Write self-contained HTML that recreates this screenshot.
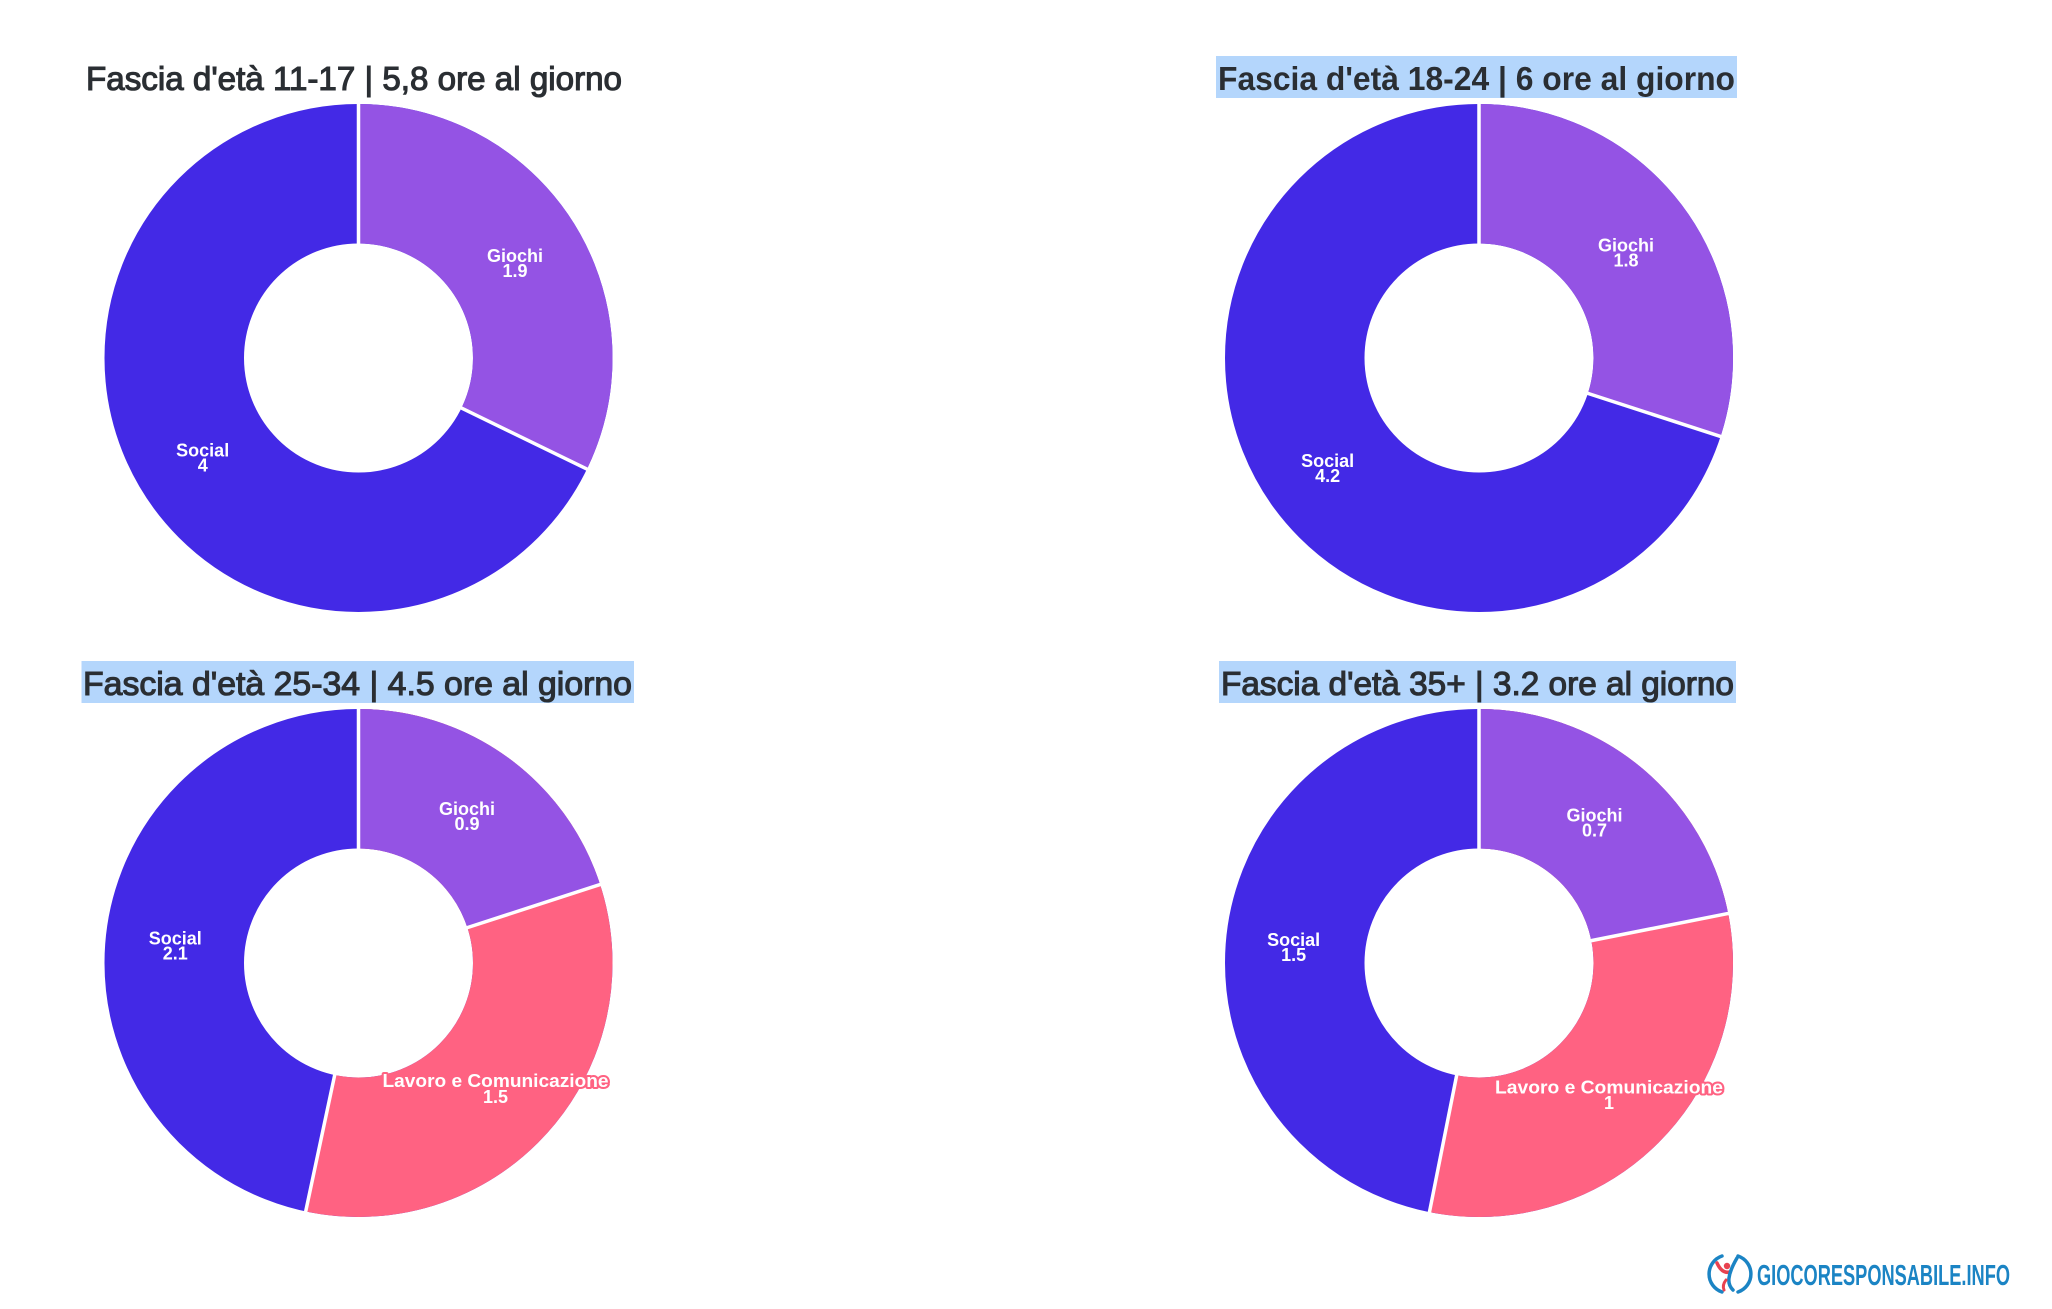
<!DOCTYPE html>
<html>
<head>
<meta charset="utf-8">
<style>
  html, body { margin: 0; padding: 0; background: #ffffff; }
  body { width: 2052px; height: 1309px; overflow: hidden; }
  svg { display: block; }
  .title { font-family: "Liberation Sans", sans-serif; font-size: 33px; fill: #2a2e33; }
  .tm { stroke: #2a2e33; stroke-width: 1.1px; }
  .lbl { font-family: "Liberation Sans", sans-serif; font-weight: bold; font-size: 18px; fill: #ffffff; text-anchor: middle; }
  .lav { stroke: #ff6282; stroke-width: 4px; paint-order: stroke; stroke-linejoin: round; }
</style>
</head>
<body>
<svg width="2052" height="1309" viewBox="0 0 2052 1309" xmlns="http://www.w3.org/2000/svg">
  <rect width="2052" height="1309" fill="#ffffff"/>

  <!-- Title highlights -->
  <rect x="1216" y="56" width="521" height="42" fill="#b4d6fc"/>
  <rect x="81.5" y="661" width="552.5" height="42" fill="#b4d6fc"/>
  <rect x="1219" y="661" width="517" height="42" fill="#b4d6fc"/>

  <!-- Titles -->
  <text class="title tm" x="86" y="90" textLength="536" lengthAdjust="spacingAndGlyphs">Fascia d'età 11-17 | 5,8 ore al giorno</text>
  <text class="title" font-weight="bold" x="1218" y="90" textLength="517" lengthAdjust="spacingAndGlyphs">Fascia d'età 18-24 | 6 ore al giorno</text>
  <text class="title tm" x="83" y="695" textLength="549" lengthAdjust="spacingAndGlyphs">Fascia d'età 25-34 | 4.5 ore al giorno</text>
  <text class="title tm" x="1221" y="695" textLength="513" lengthAdjust="spacingAndGlyphs">Fascia d'età 35+ | 3.2 ore al giorno</text>

  <!-- Chart 1 -->
  <g>
    <circle cx="358.5" cy="358" r="184.25" fill="none" stroke="#4329e6" stroke-width="139.5"/>
    <circle cx="358.5" cy="358" r="184.25" fill="none" stroke="#9453e4" stroke-width="139.5"
            pathLength="360" stroke-dasharray="115.93 400" transform="rotate(-90 358.5 358)"/>
    <g stroke="#ffffff" stroke-width="3.5">
      <line x1="358.5" y1="246" x2="358.5" y2="100" transform="rotate(0 358.5 358)"/>
      <line x1="358.5" y1="246" x2="358.5" y2="100" transform="rotate(115.93 358.5 358)"/>
    </g>
    <text class="lbl" x="515" y="262">Giochi</text>
    <text class="lbl" x="515" y="277">1.9</text>
    <text class="lbl" x="202.7" y="456.6">Social</text>
    <text class="lbl" x="202.7" y="471.6">4</text>
  </g>

  <!-- Chart 2 -->
  <g>
    <circle cx="1479" cy="358" r="184.25" fill="none" stroke="#4329e6" stroke-width="139.5"/>
    <circle cx="1479" cy="358" r="184.25" fill="none" stroke="#9453e4" stroke-width="139.5"
            pathLength="360" stroke-dasharray="108 400" transform="rotate(-90 1479 358)"/>
    <g stroke="#ffffff" stroke-width="3.5">
      <line x1="1479" y1="246" x2="1479" y2="100" transform="rotate(0 1479 358)"/>
      <line x1="1479" y1="246" x2="1479" y2="100" transform="rotate(108 1479 358)"/>
    </g>
    <text class="lbl" x="1626" y="251.3">Giochi</text>
    <text class="lbl" x="1626" y="266.3">1.8</text>
    <text class="lbl" x="1327.6" y="467">Social</text>
    <text class="lbl" x="1327.6" y="482">4.2</text>
  </g>

  <!-- Chart 3 -->
  <g>
    <circle cx="358.5" cy="963" r="184.25" fill="none" stroke="#4329e6" stroke-width="139.5"/>
    <circle cx="358.5" cy="963" r="184.25" fill="none" stroke="#ff6282" stroke-width="139.5"
            pathLength="360" stroke-dasharray="192 400" transform="rotate(-90 358.5 963)"/>
    <circle cx="358.5" cy="963" r="184.25" fill="none" stroke="#9453e4" stroke-width="139.5"
            pathLength="360" stroke-dasharray="72 400" transform="rotate(-90 358.5 963)"/>
    <g stroke="#ffffff" stroke-width="3.5">
      <line x1="358.5" y1="851" x2="358.5" y2="705" transform="rotate(0 358.5 963)"/>
      <line x1="358.5" y1="851" x2="358.5" y2="705" transform="rotate(72 358.5 963)"/>
      <line x1="358.5" y1="851" x2="358.5" y2="705" transform="rotate(192 358.5 963)"/>
    </g>
    <text class="lbl" x="467" y="815">Giochi</text>
    <text class="lbl" x="467" y="830">0.9</text>
    <text class="lbl" x="175.3" y="944.5">Social</text>
    <text class="lbl" x="175.3" y="959.5">2.1</text>
    <text class="lbl lav" x="495.5" y="1087" textLength="226" lengthAdjust="spacingAndGlyphs">Lavoro e Comunicazione</text>
    <text class="lbl lav" x="495.5" y="1103">1.5</text>
  </g>

  <!-- Chart 4 -->
  <g>
    <circle cx="1479" cy="963" r="184.25" fill="none" stroke="#4329e6" stroke-width="139.5"/>
    <circle cx="1479" cy="963" r="184.25" fill="none" stroke="#ff6282" stroke-width="139.5"
            pathLength="360" stroke-dasharray="191.25 400" transform="rotate(-90 1479 963)"/>
    <circle cx="1479" cy="963" r="184.25" fill="none" stroke="#9453e4" stroke-width="139.5"
            pathLength="360" stroke-dasharray="78.75 400" transform="rotate(-90 1479 963)"/>
    <g stroke="#ffffff" stroke-width="3.5">
      <line x1="1479" y1="851" x2="1479" y2="705" transform="rotate(0 1479 963)"/>
      <line x1="1479" y1="851" x2="1479" y2="705" transform="rotate(78.75 1479 963)"/>
      <line x1="1479" y1="851" x2="1479" y2="705" transform="rotate(191.25 1479 963)"/>
    </g>
    <text class="lbl" x="1594.5" y="821.6">Giochi</text>
    <text class="lbl" x="1594.5" y="836.6">0.7</text>
    <text class="lbl" x="1293.6" y="945.8">Social</text>
    <text class="lbl" x="1293.6" y="960.8">1.5</text>
    <text class="lbl lav" x="1609" y="1093.6" textLength="228" lengthAdjust="spacingAndGlyphs">Lavoro e Comunicazione</text>
    <text class="lbl lav" x="1609" y="1109">1</text>
  </g>

  <!-- Logo -->
  <g>
    <path d="M 1722 1256 A 19 19 0 0 0 1722 1292" fill="none" stroke="#1b84c4" stroke-width="3.5" stroke-linecap="round"/>
    <path d="M 1738 1256 A 19 19 0 0 1 1738 1292" fill="none" stroke="#1b84c4" stroke-width="3.5" stroke-linecap="round"/>
    <circle cx="1727" cy="1266" r="3.2" fill="#e8424f"/>
    <path d="M 1717 1263 Q 1722 1274 1730 1272" fill="none" stroke="#e8424f" stroke-width="3.5" stroke-linecap="round"/>
    <path d="M 1737 1258 Q 1730 1270 1729 1278 Q 1728 1285 1733 1290" fill="none" stroke="#1b84c4" stroke-width="3.5" stroke-linecap="round"/>
    <path d="M 1726 1280 Q 1722 1285 1724 1290" fill="none" stroke="#e8424f" stroke-width="3" stroke-linecap="round"/>
    <text x="1757" y="1285" font-family="Liberation Sans, sans-serif" font-weight="bold" font-size="29" fill="#1b84c4" textLength="253" lengthAdjust="spacingAndGlyphs">GIOCORESPONSABILE.INFO</text>
  </g>
</svg>
</body>
</html>
